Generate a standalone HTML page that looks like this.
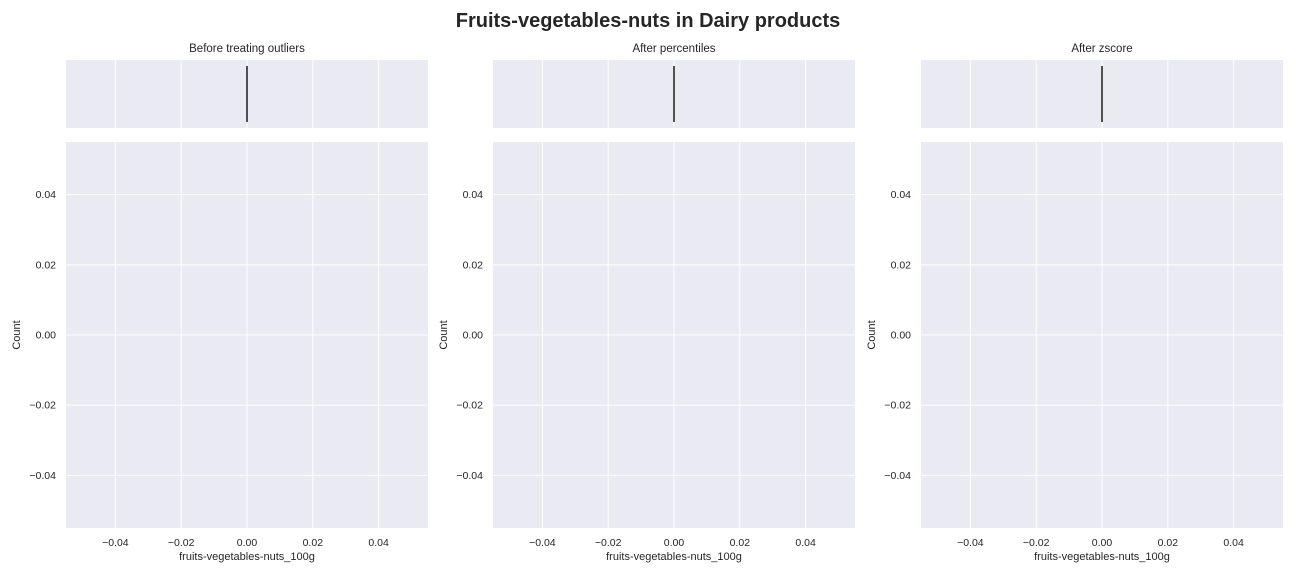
<!DOCTYPE html>
<html><head><meta charset="utf-8">
<style>
body{margin:0;background:#fff;font-family:"Liberation Sans",sans-serif;}
svg text{font-family:"Liberation Sans",sans-serif;fill:#262626;}
</style></head>
<body>
<svg id="chart" width="1296" height="576" xmlns="http://www.w3.org/2000/svg">
<text x="648" y="27" text-anchor="middle" font-size="20" font-weight="bold">Fruits-vegetables-nuts in Dairy products</text>
</svg>
<script>
const panelTitles = ["Before treating outliers","After percentiles","After zscore"];
const xTicks = [-0.04,-0.02,0,0.02,0.04];
const yTicks = [0.04,0.02,0,-0.02,-0.04];
const boxValues = [0,0,0];
const xDomain = [-0.055,0.055];
const yDomain = [-0.055,0.055];
const panelLeft = [66,493,921];
const W = 362, topY = 60, topH = 68, botY = 142, botH = 386;
const NS = "http://www.w3.org/2000/svg";
const svg = document.getElementById('chart');
function mk(tag, attrs, parent){const e=document.createElementNS(NS,tag);for(const k in attrs)e.setAttribute(k,attrs[k]);(parent||svg).appendChild(e);return e;}
panelTitles.forEach((t,i)=>{
  const L = panelLeft[i];
  const xs = v => L + (v - xDomain[0])/(xDomain[1]-xDomain[0])*W;
  const ys = v => botY + (yDomain[1]-v)/(yDomain[1]-yDomain[0])*botH;
  const g = mk('g',{});
  
  
  const tt = mk('text',{x:L+W/2,y:52,'text-anchor':'middle','font-size':11.5},g);
  tt.textContent = t;
  
  
  const r1 = mk('rect',{x:L,y:topY,width:W,height:topH,fill:'#eaeaf2'},g);
  
  
  xTicks.forEach(v=>{mk('line',{x1:xs(v),x2:xs(v),y1:topY,y2:topY+topH,stroke:'#fff','stroke-width':1},g);});
  const bl = mk('line',{x1:xs(boxValues[i]),x2:xs(boxValues[i]),y1:66,y2:122,stroke:'#3f3f3f','stroke-width':1.8},g);
  
  
  const r2 = mk('rect',{x:L,y:botY,width:W,height:botH,fill:'#eaeaf2'},g);
  
  
  xTicks.forEach(v=>{
    mk('line',{x1:xs(v),x2:xs(v),y1:botY,y2:botY+botH,stroke:'#fff','stroke-width':1},g);
    const tx = mk('text',{x:xs(v),y:546,'text-anchor':'middle','font-size':10.5},g);
    tx.textContent = (v===0?'0.00':(v<0?'\u2212':'')+Math.abs(v).toFixed(2));
    
    
  });
  yTicks.forEach(v=>{
    mk('line',{x1:L,x2:L+W,y1:ys(v),y2:ys(v),stroke:'#fff','stroke-width':1},g);
    const ty = mk('text',{x:L-10,y:ys(v)+3.5,'text-anchor':'end','font-size':10.5},g);
    ty.textContent = (v===0?'0.00':(v<0?'\u2212':'')+Math.abs(v).toFixed(2));
    
    
  });
  const xl = mk('text',{x:L+W/2,y:560,'text-anchor':'middle','font-size':11},g);
  xl.textContent = 'fruits-vegetables-nuts_100g';
  
  
  const yl = mk('text',{x:0,y:0,'text-anchor':'middle','font-size':11,transform:`translate(${L-46},335) rotate(-90)`},g);
  yl.textContent = 'Count';
  
  
});
</script>
</body></html>
